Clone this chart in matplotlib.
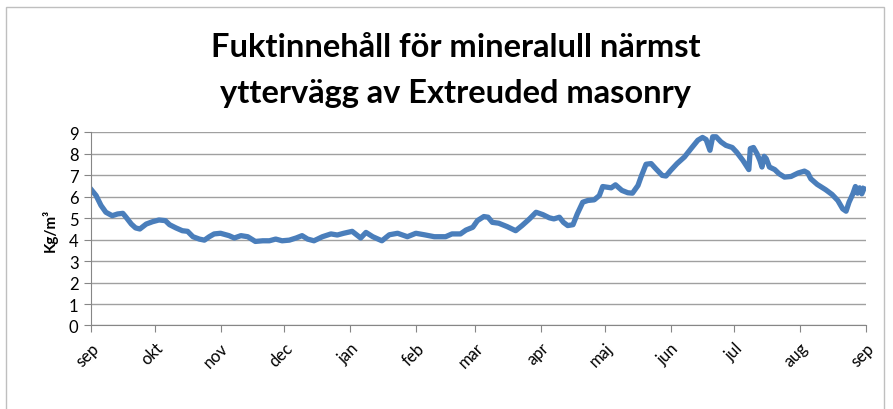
import matplotlib
matplotlib.use("Agg")
import matplotlib.pyplot as plt
import numpy as np

plt.rcParams["font.family"] = ["Lato", "DejaVu Sans"]

# Day of year counted from 1 september
days = [0, 2.4, 4.7, 7, 10, 12.5, 15, 16.5, 19, 21, 23, 26, 29, 32, 35, 37, 40,
        43, 45.5, 48, 51, 53.4, 55.7, 58, 61, 65, 67.5, 70.6, 73.8, 77.4, 80.9,
        84, 87, 90, 93.4, 96.6, 99.4, 102, 105, 109, 113, 116, 119, 123, 127,
        129.5, 132.7, 137, 140.5, 144.4, 149, 153, 157, 161.7, 167, 170, 174,
        176.6, 179.8, 182, 185, 187, 189, 192, 196, 200, 203, 206.5, 209.6,
        212.8, 215.9, 218, 220.6, 222.5, 224.5, 227, 229, 231.6, 234, 237,
        239.4, 241, 243, 245, 247, 250, 252.8, 255, 257.6, 259, 261.4, 263.8,
        266, 269, 270.8, 273, 276, 279.5, 282.6, 285.8, 288, 289.7, 291.5,
        292.8, 294.4, 296.7, 299, 302, 304, 307, 309.8, 310.5, 312, 313.6, 315,
        316, 317, 318, 319.5, 322, 324, 326.6, 329.7, 333, 336, 337.6, 339,
        342, 346, 349, 351.7, 354, 355.6, 357, 358.8, 360, 361, 362, 363, 364]
moisture = [6.35, 6.06, 5.6, 5.28, 5.12, 5.2, 5.23, 5.05, 4.73, 4.55, 4.5, 4.73,
            4.84, 4.92, 4.89, 4.7, 4.55, 4.42, 4.39, 4.14, 4.03, 3.98, 4.14,
            4.27, 4.3, 4.19, 4.08, 4.19, 4.14, 3.92, 3.95, 3.95, 4.03, 3.95,
            3.98, 4.08, 4.19, 4.03, 3.95, 4.14, 4.27, 4.22, 4.3, 4.39, 4.08,
            4.34, 4.14, 3.95, 4.23, 4.3, 4.14, 4.3, 4.23, 4.14, 4.14, 4.27,
            4.27, 4.45, 4.58, 4.89, 5.08, 5.05, 4.81, 4.77, 4.61, 4.42, 4.66,
            4.97, 5.28, 5.17, 5.02, 4.97, 5.05, 4.81, 4.66, 4.7, 5.2, 5.75,
            5.83, 5.86, 6.06, 6.48, 6.45, 6.42, 6.56, 6.3, 6.19, 6.17, 6.53,
            6.92, 7.52, 7.55, 7.31, 7.0, 6.97, 7.23, 7.55, 7.86, 8.25, 8.64,
            8.77, 8.67, 8.17, 8.8, 8.8, 8.56, 8.4, 8.3, 8.09, 7.7, 7.27, 8.25,
            8.3, 8.02, 7.7, 7.39, 7.89, 7.78, 7.39, 7.27, 7.08, 6.92, 6.95,
            7.11, 7.2, 7.11, 6.84, 6.58, 6.33, 6.11, 5.83, 5.44, 5.33, 5.75,
            6.14, 6.48, 6.17, 6.42, 6.14, 6.38]

month_days = [0, 30, 61, 91, 122, 153, 181, 212, 242, 273, 303, 334, 365]
month_labels = ["sep", "okt", "nov", "dec", "jan", "feb", "mar", "apr", "maj",
                "jun", "jul", "aug", "sep"]

fig = plt.figure(figsize=(8.93, 4.10), dpi=100)
ax = fig.add_axes([0.1019, 0.2037, 0.8679, 0.4707])

ax.plot(days, moisture, color="#4a7ebb", linewidth=3.8, solid_joinstyle="round")

ax.set_xlim(0, 365)
ax.set_ylim(0, 9)
ax.set_yticks(range(0, 10))
ax.set_xticks(month_days)
ax.set_xticklabels(month_labels, rotation=45, ha="right", rotation_mode="anchor",
                   fontsize=12)
ax.tick_params(axis="y", labelsize=12, length=5, color="#868686", pad=4)
ax.tick_params(axis="x", length=5, color="#868686", pad=5)
ax.yaxis.grid(True, color="#a0a0a0", linewidth=1)
ax.set_axisbelow(True)
for side in ["top", "right"]:
    ax.spines[side].set_visible(False)
for side in ["left", "bottom"]:
    ax.spines[side].set_color("#868686")
ax.set_ylabel("Kg/m³", fontsize=11, fontweight="bold", labelpad=8)

fig.text(0.51, 0.885, "Fuktinnehåll för mineralull närmst", ha="center",
         va="center", fontsize=23.5, fontweight="bold")
fig.text(0.51, 0.773, "yttervägg av Extreuded masonry", ha="center",
         va="center", fontsize=23.5, fontweight="bold")

# chart frame
frame = plt.Rectangle((0.007, -0.05), 0.983, 1.03, transform=fig.transFigure,
                      fill=False, edgecolor="#bfbfbf", linewidth=1)
fig.add_artist(frame)

fig.savefig("out.png", dpi=100)
